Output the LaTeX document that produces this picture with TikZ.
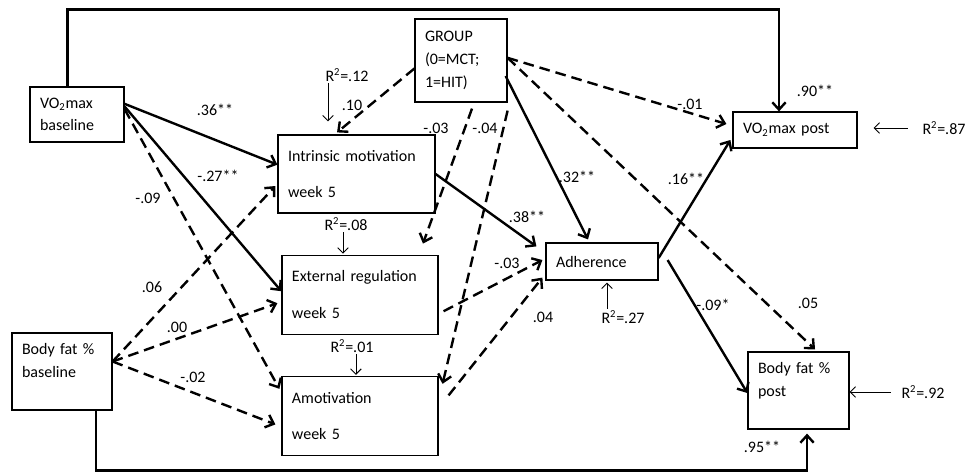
\documentclass[tikz,border=0pt]{standalone}
\usepackage{fontspec}
\setmainfont{Carlito}
\usetikzlibrary{positioning, arrows.meta}

\begin{document}
\begin{tikzpicture}[x=0.75pt, y=-0.75pt, font=\fontsize{12}{17}\selectfont,
	>={Straight Barb[length=5.5pt, width=10pt]},
	bx/.style={draw, line width=0.9pt, align=left, inner xsep=7.5pt, inner ysep=0pt},
	lb/.style={inner sep=1pt},
	sol/.style={->, line width=1.8pt},
	das/.style={sol, dash pattern=on 8pt off 4.5pt},
	rr/.style={->, line width=0.7pt, >={Straight Barb[length=4pt, width=8pt]}}]
	\useasboundingbox (0,0) rectangle (967,472);

	\node[bx, text width=55.5pt, minimum height=41.25pt] (vobase) at (77,114.5) {VO\textsubscript{2}max\\baseline};
	\node[bx, text width=54pt, minimum height=62.25pt] (group) at (461,60.5) {GROUP\\(0=MCT;\\1=HIT)};
	\node[bx, text width=102.75pt, minimum height=58.5pt] (intr) at (356.5,174) {Intrinsic motivation\\[10.5pt]week 5};
	\node[bx, text width=102pt, minimum height=59.25pt, below=30.75pt of intr, xshift=2.6pt] (extr) {External regulation\\[10.5pt]week 5};
	\node[bx, text width=102pt, minimum height=59.25pt, below=30.75pt of extr] (amot) {Amotivation\\[10.5pt]week 5};
	\node[bx, text width=60pt, minimum height=57.75pt] (bfbase) at (62,371.5) {Body fat \%\\baseline\\~};
	\node[bx, text width=69pt, minimum height=27.75pt] (adh) at (602,261.5) {Adherence};
	\node[bx, text width=78pt, minimum height=27pt] (vopost) at (795,130) {VO\textsubscript{2}max post};
	\node[bx, text width=60.75pt, minimum height=57.75pt] (bfpost) at (798.5,390.5) {Body fat \%\\post\\~};

	% stability paths
	\draw[sol] ([xshift=-7pt]vobase.north) -- ++(0,-77) -| ([xshift=-12pt]vopost.north);
	\draw[sol] ([xshift=25.5pt]bfbase.south) -- ++(0,60) -| ([xshift=6.4pt, yshift=-3pt]bfpost.south);

	\path[sol] ([yshift=8pt]vobase.east) edge ([yshift=7pt]intr.west);
	\path[sol] ([yshift=6pt]vobase.east) edge ([yshift=2.6pt]extr.west);
	\path[das] ([yshift=4pt]vobase.east) edge ([xshift=-1.5pt, yshift=-9.75pt]amot.north west);
	\path[das] ([yshift=7.5pt]bfbase.east) edge ([xshift=-1.5pt, yshift=-9pt]intr.west);
	\path[das] ([yshift=7.5pt]bfbase.east) edge ([xshift=-3pt, yshift=-6.4pt]extr.west);
	\path[das] ([yshift=7.5pt]bfbase.east) edge ([xshift=-4.5pt, yshift=-6.4pt]amot.west);
	\path[das] ([yshift=-6pt]group.west) edge ([xshift=-14.6pt, yshift=1.5pt]intr.north);
	\path[das] ([xshift=8.25pt, yshift=-4.5pt]group.south) edge ([xshift=47.25pt, yshift=8.25pt]extr.north);
	\path[das] ([yshift=-6pt]group.south east) edge ([xshift=3pt, yshift=-6pt]amot.north east);
	\path[sol] ([xshift=-1.5pt, yshift=-11.6pt]group.east) edge ([xshift=-10.5pt, yshift=2.25pt]adh.north);
	\path[das] ([yshift=2pt]group.east) edge ([xshift=-4.5pt, yshift=4.5pt]vopost.west);
	\path[das] ([yshift=2pt]group.east) edge ([xshift=12.4pt, yshift=1.5pt]bfpost.north);
	\path[sol] (intr.east) edge ([xshift=-6.75pt, yshift=-3pt]adh.north west);
	\path[das] ([xshift=3.75pt, yshift=-12.4pt]extr.east) edge ([xshift=-2.25pt, yshift=1.1pt]adh.west);
	\path[das] ([xshift=7.5pt, yshift=15.4pt]amot.east) edge ([xshift=-2.25pt, yshift=2.25pt]adh.south west);
	\path[sol] ([yshift=2.6pt]adh.east) edge ([xshift=-1.5pt, yshift=-7.5pt]vopost.west);
	\path[sol] ([xshift=6.75pt, yshift=1.1pt]adh.east) edge ([yshift=-1.9pt]bfpost.west);

	% path coefficients
	\node[lb] (l36) at (215,110) {.36**};
	\node[lb] (l27) at (218,176) {-.27**};
	\node[lb] (l09) at (148,198) {-.09};
	\node[lb] (l06) at (152,287) {.06};
	\node[lb] (l00) at (177,327) {.00};
	\node[lb] (l02) at (193,377) {-.02};
	\node[lb] (l10) at (352,105) {.10};
	\node[lb] (l03a) at (436,128) {-.03};
	\node[lb] (l04a) at (485,128) {-.04};
	\node[lb] (l32) at (577,177) {.32**};
	\node[lb] (l01) at (690,104) {-.01};
	\node[lb] (l38) at (527,217) {.38**};
	\node[lb] (l03b) at (507,263) {-.03};
	\node[lb] (l04b) at (543,317) {.04};
	\node[lb] (l16) at (686,179) {.16**};
	\node[lb] (l09b) at (713,305) {-.09*};
	\node[lb] (l05) at (808,303) {.05};
	\node[lb] (l90) at (815,91) {.90**};
	\node[lb] (l95) at (762,447) {.95**};

	% explained variance
	\node[lb] (r12) at (347,75) {R\textsuperscript{2}=.12};
	\node[lb] (r08) at (346,224) {R\textsuperscript{2}=.08};
	\node[lb] (r01) at (352,346) {R\textsuperscript{2}=.01};
	\node[lb] (r27) at (623,317) {R\textsuperscript{2}=.27};
	\node[lb] (r87) at (944,128) {R\textsuperscript{2}=.87};
	\node[lb] (r92) at (923,392) {R\textsuperscript{2}=.92};
	\coordinate (t12) at ([xshift=-21.4pt, yshift=9.75pt]intr.north);
	\coordinate (t08) at ([xshift=-12.75pt, yshift=0.75pt]extr.north);
	\coordinate (t01) at ([xshift=-3pt, yshift=0.75pt]amot.north);
	\coordinate (t27) at ([xshift=3.75pt, yshift=-1.5pt]adh.south);
	\coordinate (t87) at ([xshift=12pt]vopost.east);
	\draw[rr] (r12.south west -| t12) -- (t12);
	\draw[rr] (r08.south -| t08) -- (t08);
	\draw[rr] (r01.south -| t01) -- (t01);
	\draw[rr] (r27.north -| t27) -- (t27);
	\draw[rr] ([xshift=-10pt]r87.west) -- (r87.west -| t87);
	\draw[rr] ([xshift=-7pt]r92.west) -- (r92.west -| bfpost.east);
\end{tikzpicture}
\end{document}
